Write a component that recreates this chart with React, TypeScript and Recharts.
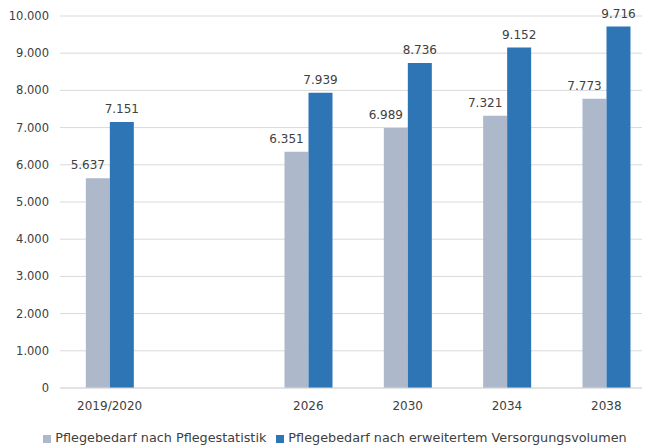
import React from "react";
import { BarChart, Bar, XAxis, YAxis, CartesianGrid, Legend } from "recharts";

// Years shown on the category axis (the blank slot keeps the gap before 2026)
const years = ["2019/2020", "", "2026", "2030", "2034", "2038"];
// Care demand according to care statistics
const pflegestatistik: (number | null)[] = [5637, null, 6351, 6989, 7321, 7773];
// Care demand according to extended supply volume
const versorgungsvolumen: (number | null)[] = [7151, null, 7939, 8736, 9152, 9716];
// Y-axis ticks
const yTicks = [0, 1000, 2000, 3000, 4000, 5000, 6000, 7000, 8000, 9000, 10000];

const data = years.map((year, i) => ({
  year,
  statistik: pflegestatistik[i],
  volumen: versorgungsvolumen[i],
}));

const FONT = "'DejaVu Sans', sans-serif";
const TEXT = "#404040";
const GRAY = "#ADB9CA";
const BLUE = "#2E75B6";

const fmt = (v: number) =>
  String(Math.round(v)).replace(/\B(?=(\d{3})+(?!\d))/g, ".");

const makeLabel = (dx: number) => (props: any) => {
  const { x, y, width, value } = props;
  if (value == null) return null;
  return (
    <text
      x={Number(x) + Number(width) / 2 + dx}
      y={Number(y) - 9}
      textAnchor="middle"
      fontFamily={FONT}
      fontSize={12}
      fill={TEXT}
    >
      {fmt(Number(value))}
    </text>
  );
};

export default function App() {
  return (
    <div style={{ width: 650, height: 437, background: "#fff" }}>
      <BarChart
        width={650}
        height={437}
        data={data}
        margin={{ top: 8, right: 2, bottom: 12, left: 0 }}
        barCategoryGap="26%"
        barGap={0}
        style={{ overflow: "visible" }}
      >
        <CartesianGrid vertical={false} stroke="#d9d9d9" />
        <XAxis
          dataKey="year"
          axisLine={{ stroke: "#d9d9d9" }}
          tickLine={false}
          tickSize={0}
          tickMargin={13}
          height={30}
          interval={0}
          tick={{ fontFamily: FONT, fontSize: 12, fill: TEXT }}
        />
        <YAxis
          domain={[0, 10000]}
          ticks={yTicks}
          tickFormatter={fmt}
          axisLine={false}
          tickLine={false}
          tickSize={0}
          tickMargin={11}
          width={52}
          tick={{ fontFamily: FONT, fontSize: 11.5, fill: TEXT }}
        />
        <Legend
          verticalAlign="bottom"
          align="center"
          iconType="square"
          iconSize={8}
          wrapperStyle={{ fontFamily: FONT, fontSize: 12.8, color: TEXT, bottom: 0, left: 8 }}
          formatter={(value: string) => <span style={{ color: TEXT }}>{value}</span>}
        />
        <Bar
          dataKey="statistik"
          name="Pflegebedarf nach Pflegestatistik"
          fill={GRAY}
          isAnimationActive={false}
          label={makeLabel(-10)}
        />
        <Bar
          dataKey="volumen"
          name="Pflegebedarf nach erweitertem Versorgungsvolumen"
          fill={BLUE}
          isAnimationActive={false}
          label={makeLabel(0)}
        />
      </BarChart>
    </div>
  );
}
